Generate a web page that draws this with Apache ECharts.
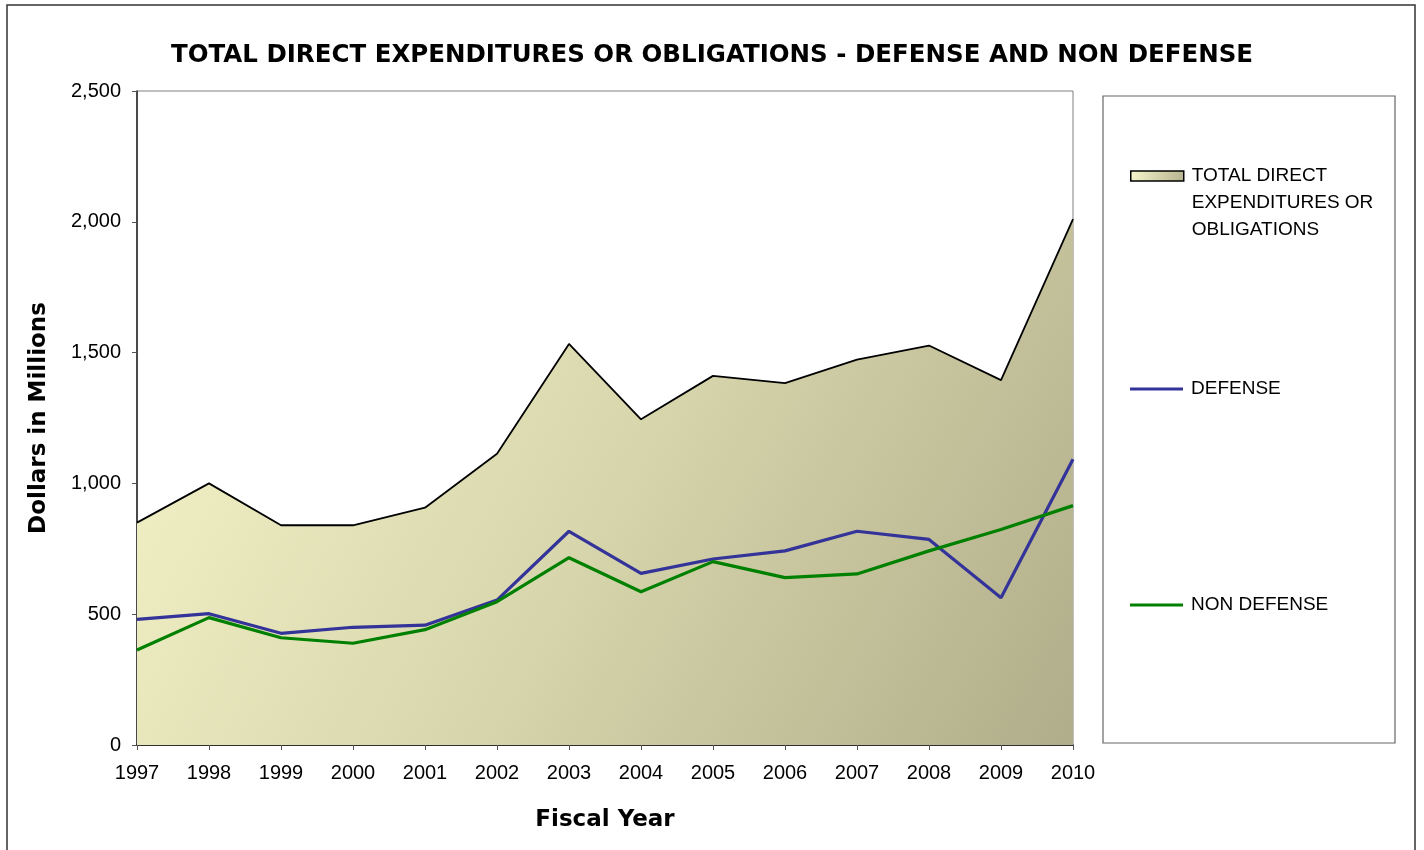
<!DOCTYPE html>
<html>
<head>
<meta charset="utf-8">
<script src="https://cdn.jsdelivr.net/npm/echarts@6/dist/echarts.min.js"></script>
<style>
html,body{margin:0;padding:0;background:#fff;}
#chart{width:1424px;height:850px;}
</style>
</head>
<body>
<div id="chart"></div>
<script>
// ---- data ----
const years = ['1997','1998','1999','2000','2001','2002','2003','2004','2005','2006','2007','2008','2009','2010'];
const totalValues = [850, 1000, 840, 840, 907, 1113, 1533, 1245, 1411, 1383, 1473, 1527, 1395, 2010];
const defenseValues = [480, 502, 427, 450, 458, 554, 817, 656, 711, 742, 817, 786, 563, 1092];
const nonDefenseValues = [363, 487, 410, 389, 441, 548, 716, 586, 701, 640, 654, 742, 824, 915];
const yTicks = [0, 500, 1000, 1500, 2000, 2500];

const totalName = 'TOTAL DIRECT EXPENDITURES OR OBLIGATIONS';
const defenseName = 'DEFENSE';
const nonDefenseName = 'NON DEFENSE';

const FONT = '"Liberation Sans", Arial, sans-serif';
const BOLDFONT = '"DejaVu Sans", "Liberation Sans", Arial, sans-serif';

const areaGradient = new echarts.graphic.LinearGradient(0, 0, 1, 1, [
  {offset: 0, color: '#F7F6CB'},
  {offset: 0.5, color: '#D8D6AC'},
  {offset: 1, color: '#B0AD8A'}
]);
const legendGradient = new echarts.graphic.LinearGradient(0, 0, 1, 1, [
  {offset: 0, color: '#F7F6CB'},
  {offset: 1, color: '#B5B28F'}
]);

const chart = echarts.init(document.getElementById('chart'), null, {renderer: 'canvas'});

const option = {
  backgroundColor: '#fff',
  animation: false,
  textStyle: {fontFamily: FONT},
  title: {
    text: 'TOTAL DIRECT EXPENDITURES OR OBLIGATIONS - DEFENSE AND NON DEFENSE',
    left: 'center',
    top: 38,
    textStyle: {fontFamily: BOLDFONT, fontSize: 24.5, fontWeight: 'bold', color: '#000'}
  },
  graphic: [
    {type: 'rect', shape: {x: 7, y: 5, width: 1408, height: 900}, style: {fill: 'none', stroke: '#333', lineWidth: 1.5}, silent: true},
    {type: 'rect', shape: {x: 1103, y: 96, width: 292, height: 647}, style: {fill: 'none', stroke: '#666', lineWidth: 1.2}, silent: true}
  ],
  legend: [
    {
      data: [{name: totalName, icon: 'rect', itemStyle: {color: legendGradient, borderColor: '#000', borderWidth: 1.5}}],
      left: 1130, top: 108.5, orient: 'vertical', padding: 0,
      itemWidth: 53, itemHeight: 10,
      formatter: () => '\n\nTOTAL DIRECT\nEXPENDITURES OR\nOBLIGATIONS',
      textStyle: {fontFamily: FONT, fontSize: 19, color: '#000', lineHeight: 27, padding: [0, 0, 0, 3]}
    },
    {
      data: [{name: defenseName, icon: 'rect', itemStyle: {color: '#333399', borderWidth: 0}}],
      left: 1130, top: 379, orient: 'vertical', padding: 0,
      itemWidth: 53, itemHeight: 3,
      textStyle: {fontFamily: FONT, fontSize: 19, color: '#000', lineHeight: 20, padding: [0, 0, 0, 3]}
    },
    {
      data: [{name: nonDefenseName, icon: 'rect', itemStyle: {color: '#008000', borderWidth: 0}}],
      left: 1130, top: 595, orient: 'vertical', padding: 0,
      itemWidth: 53, itemHeight: 3,
      textStyle: {fontFamily: FONT, fontSize: 19, color: '#000', lineHeight: 20, padding: [0, 0, 0, 3]}
    }
  ],
  grid: {
    left: 137, top: 91, width: 936, height: 654,
    show: true, borderColor: '#808080', borderWidth: 1, backgroundColor: 'transparent'
  },
  xAxis: {
    type: 'category',
    data: years,
    boundaryGap: false,
    name: 'Fiscal Year',
    nameLocation: 'middle',
    nameGap: 64,
    nameTextStyle: {fontFamily: BOLDFONT, fontSize: 23, fontWeight: 'bold', color: '#000'},
    axisLine: {lineStyle: {color: '#000', width: 1.5}},
    axisTick: {show: true, length: 5, lineStyle: {color: '#555'}},
    axisLabel: {fontFamily: FONT, fontSize: 20, color: '#000', margin: 18},
    splitLine: {show: false}
  },
  yAxis: {
    type: 'value',
    min: yTicks[0], max: yTicks[yTicks.length - 1], interval: 500,
    name: 'Dollars in Millions',
    nameLocation: 'middle',
    nameGap: 86,
    nameRotate: 90,
    nameTextStyle: {fontFamily: BOLDFONT, fontSize: 23, fontWeight: 'bold', color: '#000'},
    axisLine: {show: true, lineStyle: {color: '#222', width: 1.5}},
    axisTick: {show: true, length: 5, lineStyle: {color: '#555'}},
    axisLabel: {
      fontFamily: FONT, fontSize: 20, color: '#000', margin: 16,
      formatter: v => v.toLocaleString('en-US')
    },
    splitLine: {show: false}
  },
  series: [
    {
      name: totalName,
      type: 'line',
      data: totalValues,
      symbol: 'none',
      lineStyle: {color: '#000', width: 1.8},
      itemStyle: {color: legendGradient},
      areaStyle: {color: areaGradient, opacity: 1},
      z: 1
    },
    {
      name: defenseName,
      type: 'line',
      data: defenseValues,
      symbol: 'none',
      lineStyle: {color: '#333399', width: 3.2},
      itemStyle: {color: '#333399'},
      z: 2
    },
    {
      name: nonDefenseName,
      type: 'line',
      data: nonDefenseValues,
      symbol: 'none',
      lineStyle: {color: '#008000', width: 3.2},
      itemStyle: {color: '#008000'},
      z: 3
    }
  ]
};
chart.setOption(option);
</script>
</body>
</html>
